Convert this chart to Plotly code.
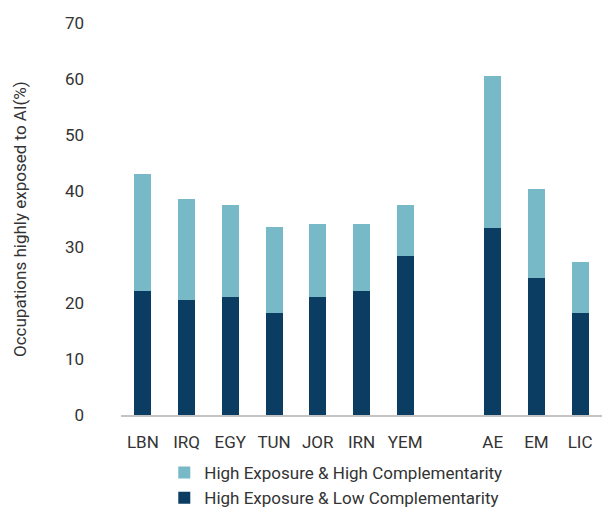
import plotly.graph_objects as go

# Economies shown, with a blank slot separating country bars from group averages
categories = ["LBN", "IRQ", "EGY", "TUN", "JOR", "IRN", "YEM", " ", "AE", "EM", "LIC"]
countries = ["LBN", "IRQ", "EGY", "TUN", "JOR", "IRN", "YEM", "AE", "EM", "LIC"]

# Share of occupations (%) by exposure/complementarity group
low_complementarity = [22.2, 20.5, 21.1, 18.3, 21.1, 22.2, 28.4, 33.4, 24.4, 18.2]
high_complementarity = [20.9, 18.0, 16.4, 15.2, 13.0, 11.9, 9.1, 27.2, 15.9, 9.1]

y_ticks = [0, 10, 20, 30, 40, 50, 60, 70]

DARK = "#0b3c61"
LIGHT = "#77b9c6"
TEXT = "#333333"
FONT = "Roboto"
SIZE = 17

fig = go.Figure()
fig.add_trace(go.Bar(
    x=countries, y=low_complementarity,
    name="High Exposure & Low Complementarity",
    marker=dict(color=DARK, line=dict(width=0)),
))
fig.add_trace(go.Bar(
    x=countries, y=high_complementarity,
    name="High Exposure & High Complementarity",
    marker=dict(color=LIGHT, line=dict(width=0)),
))

fig.update_layout(
    width=608, height=508,
    margin=dict(l=121, r=6, t=23, b=93, autoexpand=False),
    barmode="stack",
    bargap=0.61,
    plot_bgcolor="white",
    paper_bgcolor="white",
    font=dict(family=FONT, size=SIZE, color=TEXT),
    legend=dict(
        orientation="v",
        traceorder="reversed",
        x=0.09, xanchor="left",
        y=-0.102, yanchor="top",
        font=dict(size=SIZE, color=TEXT),
        tracegroupgap=0,
        bgcolor="rgba(0,0,0,0)",
    ),
    xaxis=dict(
        type="category",
        categoryorder="array",
        categoryarray=categories,
        showgrid=False,
        showline=True,
        linecolor="#c4c4c4",
        linewidth=2,
        ticks="",
        tickangle=0,
        automargin=False,
        ticklabelstandoff=11,
        tickfont=dict(size=SIZE, color=TEXT),
        range=[-0.5, len(categories) - 0.5],
    ),
    yaxis=dict(
        range=[0, 70],
        tickvals=y_ticks,
        showgrid=False,
        zeroline=False,
        showline=False,
        ticks="",
        automargin=False,
        ticklabelstandoff=36,
        tickfont=dict(size=SIZE, color=TEXT),
    ),
    annotations=[dict(
        text="Occupations highly exposed to AI(%)",
        textangle=-90,
        xref="paper", yref="paper",
        x=-0.21, y=0.5,
        xanchor="center", yanchor="middle",
        showarrow=False,
        font=dict(size=SIZE, color=TEXT),
    )],
)

fig.write_html("out.html")
